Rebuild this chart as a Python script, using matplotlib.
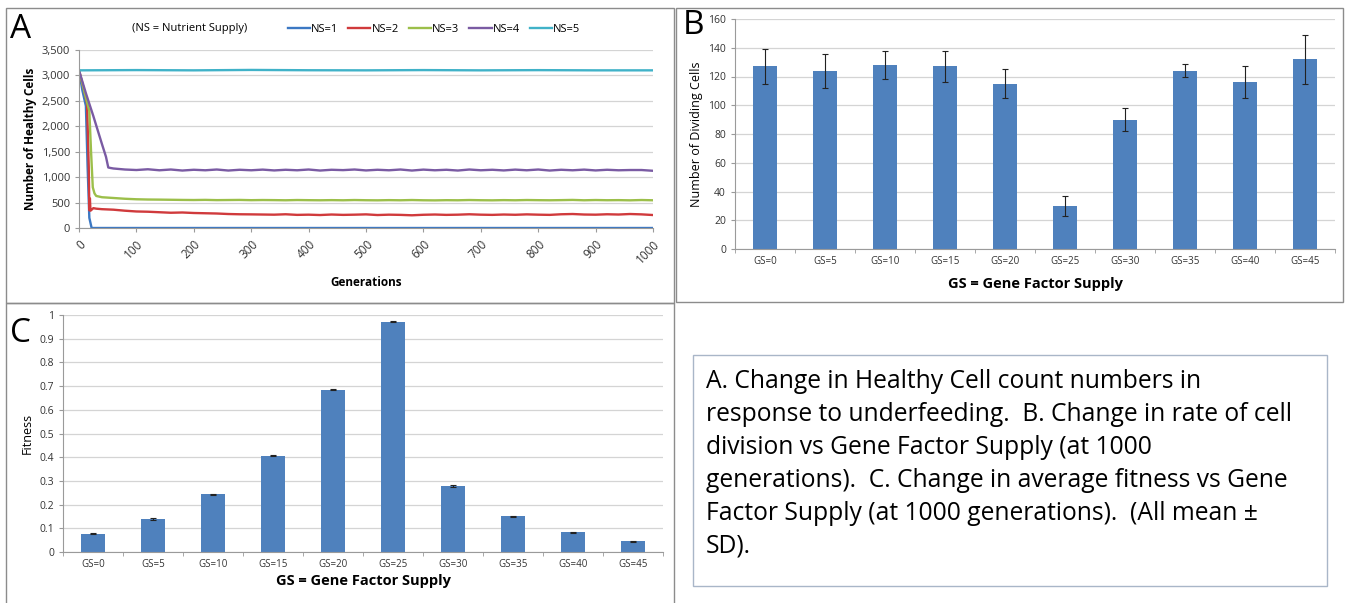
import numpy as np
import matplotlib
matplotlib.use("Agg")
import matplotlib.pyplot as plt
from matplotlib.patches import Rectangle
from matplotlib.ticker import FuncFormatter, MultipleLocator

plt.rcParams['font.family'] = ['Open Sans', 'DejaVu Sans']

W, H = 1348, 603

#--- panel A data
plateau_x = list(range(40, 1001, 20))   # 49 points

ns1_x = [0, 6, 12, 15, 18, 22, 1000]
ns1_y = [3100, 2700, 2400, 1200, 200, 0, 0]

ns2_x = [0, 8, 14, 17, 18, 19, 20, 22, 25, 30] + plateau_x
ns2_y = [3100, 2750, 2450, 1200, 350, 580, 340, 360, 390, 380,
         370, 360, 340, 325, 320, 310, 300, 305, 295, 290,
         285, 275, 270, 268, 265, 262, 270, 258, 262, 255,
         265, 258, 262, 268, 255, 262, 258, 250, 260, 265,
         258, 262, 270, 262, 258, 265, 260, 268, 262, 258,
         270, 275, 265, 262, 270, 265, 275, 268, 255]

ns3_x = [0, 10, 18, 21, 24, 27, 30] + plateau_x
ns3_y = [3100, 2650, 2300, 1500, 800, 680, 630,
         605, 590, 575, 565, 560, 558, 555, 552, 550, 553,
         548, 550, 552, 547, 550, 548, 545, 550, 547, 545,
         548, 545, 550, 546, 544, 548, 545, 550, 545, 543,
         547, 545, 550, 546, 544, 548, 545, 550, 547, 545,
         548, 552, 545, 550, 546, 548, 544, 550, 545]

ns4_x = [0, 12, 25, 40, 47, 51, 55, 60] + list(range(80, 1001, 20))   # 8 + 47
ns4_y = [3100, 2650, 2200, 1650, 1400, 1190, 1180, 1170,
         1150, 1140, 1155, 1135, 1150, 1130, 1145, 1135, 1150, 1130,
         1145, 1135, 1148, 1132, 1145, 1135, 1150, 1130, 1145, 1138,
         1150, 1132, 1145, 1135, 1150, 1130, 1148, 1135, 1145, 1130,
         1150, 1135, 1145, 1132, 1148, 1135, 1150, 1130, 1145, 1135,
         1148, 1132, 1145, 1135, 1140, 1140, 1125]

ns5_x = list(range(0, 1001, 100))
ns5_y = [3100, 3105, 3100, 3108, 3102, 3100, 3105, 3100, 3104, 3100, 3100]

ns_labels = ['NS=1', 'NS=2', 'NS=3', 'NS=4', 'NS=5']
ns_colors = ['#3C78C3', '#D03A3C', '#9CBF4A', '#7A5BA3', '#40B2C8']

#--- panel B / C data
gs_labels = ['GS=0', 'GS=5', 'GS=10', 'GS=15', 'GS=20',
             'GS=25', 'GS=30', 'GS=35', 'GS=40', 'GS=45']
dividing = [127, 124, 128, 127, 115, 30, 90, 124, 116, 132]
dividing_sd = [12, 12, 10, 11, 10, 7, 8, 4.5, 11, 17]
fitness = [0.077, 0.140, 0.243, 0.407, 0.685, 0.972, 0.278, 0.150, 0.083, 0.045]
fitness_sd = [0.003, 0.003, 0.003, 0.003, 0.003, 0.003, 0.003, 0.002, 0.002, 0.002]

caption = ("A. Change in Healthy Cell count numbers in\n"
           "response to underfeeding.  B. Change in rate of cell\n"
           "division vs Gene Factor Supply (at 1000\n"
           "generations).  C. Change in average fitness vs Gene\n"
           "Factor Supply (at 1000 generations).  (All mean \u00b1\n"
           "SD).")

BAR = '#4F81BD'
GRID = '#D4D4D4'
AXC = '#9A9A9A'


def px(x0, y0, x1, y1):
    return [x0 / W, 1 - y1 / H, (x1 - x0) / W, (y1 - y0) / H]


def box(fig, x0, y0, x1, y1, color='#8C8C8C', lw=1.0):
    fig.patches.append(Rectangle((x0 / W, 1 - y1 / H), (x1 - x0) / W, (y1 - y0) / H,
                                 transform=fig.transFigure, fill=False,
                                 edgecolor=color, linewidth=lw))


def excel_style(ax):
    for s in ['top', 'right']:
        ax.spines[s].set_visible(False)
    ax.spines['left'].set_color(AXC)
    ax.spines['bottom'].set_color(AXC)
    ax.yaxis.grid(True, color=GRID, linewidth=0.9)
    ax.set_axisbelow(True)
    ax.tick_params(colors=AXC, length=3, width=0.8, labelcolor='#333333')


def bar_panel(ax, vals, sd, ymax, ystep, ylabel, fmt, xpad):
    x = np.arange(len(vals))
    ax.bar(x, vals, width=0.4, color=BAR, zorder=2)
    ax.errorbar(x, vals, yerr=sd, fmt='none', ecolor='#222222',
                elinewidth=0.8, capsize=2, capthick=0.8, zorder=3)
    excel_style(ax)
    ax.set_xlim(-0.5, len(vals) - 0.5)
    ax.set_ylim(0, ymax)
    ax.yaxis.set_major_locator(MultipleLocator(ystep))
    ax.yaxis.set_major_formatter(FuncFormatter(fmt))
    ax.set_xticks(x)
    ax.set_xticklabels(gs_labels, fontsize=7)
    ax.set_xticks(np.arange(-0.5, len(vals), 1), minor=True)
    ax.tick_params(axis='x', which='major', length=0, pad=5)
    ax.tick_params(axis='x', which='minor', length=3, color=AXC)
    ax.tick_params(axis='y', labelsize=7.5)
    ax.set_ylabel(ylabel, fontsize=9, labelpad=4)
    ax.set_xlabel('GS = Gene Factor Supply', fontsize=10.5, fontweight='bold', labelpad=xpad)


fig = plt.figure(figsize=(W / 100, H / 100), dpi=100)

#--- panel borders
box(fig, 6, 8, 674, 303)
box(fig, 676, 8, 1343, 302)
box(fig, 6, 303, 674, 610)
box(fig, 693, 355, 1327, 586, color='#A9B6C8')

#--- panel A
axA = fig.add_axes(px(79, 50, 653, 228))
for xs, ys, c, lab in zip([ns1_x, ns2_x, ns3_x, ns4_x, ns5_x],
                          [ns1_y, ns2_y, ns3_y, ns4_y, ns5_y],
                          ns_colors, ns_labels):
    axA.plot(xs, ys, color=c, linewidth=1.7, label=lab)
excel_style(axA)
axA.set_xlim(0, 1000)
axA.set_ylim(0, 3500)
axA.xaxis.set_major_locator(MultipleLocator(100))
axA.yaxis.set_major_locator(MultipleLocator(500))
axA.yaxis.set_major_formatter(FuncFormatter(lambda v, p: f'{int(v):,}'))
axA.tick_params(axis='both', labelsize=8)
axA.tick_params(axis='x', labelsize=8.5, pad=4)
plt.setp(axA.get_xticklabels(), rotation=45, ha='right', rotation_mode='anchor')
axA.set_xlabel('Generations', fontsize=8.5, fontweight='bold', labelpad=7)
axA.set_ylabel('Number of Healthy Cells', fontsize=8.5, fontweight='bold', labelpad=3)
fig.text(190 / W, 1 - 29 / H, '(NS = Nutrient Supply)', fontsize=8, ha='center', va='center')
fig.legend(*axA.get_legend_handles_labels(), loc='center',
           bbox_to_anchor=(434 / W, 1 - 29 / H), ncol=5, frameon=False,
           fontsize=8, handlelength=2.0, handletextpad=0.1, columnspacing=0.9)

#--- panel B
axB = fig.add_axes(px(735, 19, 1335, 249))
bar_panel(axB, dividing, dividing_sd, 160, 20, 'Number of Dividing Cells',
          lambda v, p: f'{int(v)}', 7)

#--- panel C
axC = fig.add_axes(px(63, 315, 663, 552))
bar_panel(axC, fitness, fitness_sd, 1.0, 0.1, 'Fitness',
          lambda v, p: f'{v:g}', 3)

#--- panel letters
for lx, ly, t in [(10, 29, 'A'), (683, 26, 'B'), (10, 333, 'C')]:
    fig.text(lx / W, 1 - ly / H, t, fontsize=24, ha='left', va='center')

#--- caption
fig.text(706 / W, 1 - 369 / H, caption, fontsize=17.7, ha='left', va='top',
         linespacing=1.42)

fig.savefig('out.png', dpi=100)
